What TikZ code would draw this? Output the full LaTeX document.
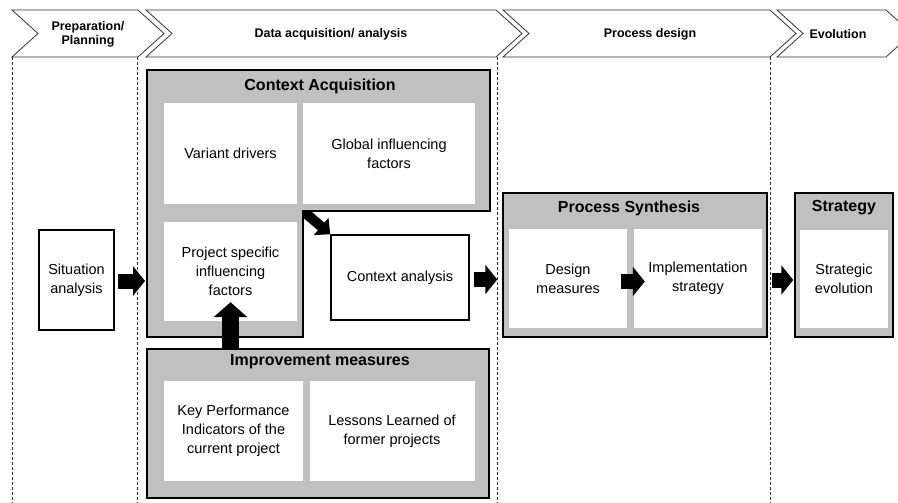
\documentclass[tikz,border=0pt]{standalone}
\usepackage{fontspec}
\setmainfont{Liberation Sans}
\usepackage{tikz}
\usetikzlibrary{arrows.meta,calc}
\definecolor{cBox}{HTML}{C0C0C0}
\definecolor{cSep}{HTML}{303030}
\newcommand{\boxfont}{\fontsize{14.5}{19}\selectfont}
\newcommand{\titlefont}{\fontsize{16}{19}\selectfont\bfseries}
\newcommand{\phasefont}{\fontsize{12.5}{14}\selectfont\bfseries}

\begin{document}
\begin{tikzpicture}[x=1pt,y=-1pt,
  phasebox/.style={draw=black!80,line width=0.8pt,fill=white},
  phase/.style={font=\phasefont,align=center},
  phasesep/.style={draw=cSep,line width=1pt,dash pattern=on 3pt off 2pt},
  outer/.style={draw=black,fill=cBox,line width=1.5pt,inner sep=0pt},
  inner/.style={fill=white,font=\boxfont,align=center,inner sep=2pt},
  plain/.style={draw=black,fill=white,line width=1.5pt,font=\boxfont,align=center},
  boxtitle/.style={font=\titlefont},
  fat/.style={line width=15pt,-{Triangle[length=12pt,width=29pt]}},
  upfat/.style={line width=17pt,-{Triangle[length=15pt,width=33pt]}},
  slimfat/.style={line width=10pt,-{Triangle[length=12pt,width=22pt]}}]

\clip (0,0) rectangle (898,503);

%============================ phases ============================
\foreach \l/\r in {12/138,146/496,503/770,777/886}
  \draw[phasebox] (\l,10) -- (\r,10) -- (\r+26,33.5) -- (\r,57) -- (\l,57) -- (\l+26,33.5) -- cycle;
\node[phase] (prep) at (88,34) {Preparation/\\Planning};
\node[phase] (acq)  at (331,34) {Data acquisition/ analysis};
\node[phase] (des)  at (650,34) {Process design};
\node[phase] (evo)  at (838,34) {Evolution};

\foreach \x in {12,137,497,770}
  \draw[phasesep] (\x,57) -- (\x,503);

%============================ preparation ============================
\node[plain,minimum width=75,minimum height=100] (sit) at (76.5,280) {Situation\\analysis};

%============================ data acquisition ============================
\node[plain,minimum width=138,minimum height=85] (ctxana) at (400,277.5) {Context analysis};
\coordinate (ctxC) at (303,211);
\coordinate (ctxW) at (145,281);
\draw[slimfat] (ctxC) -- (ctxana.north west);

% --- context acquisition (L-shaped) ---
\draw[line width=1.5pt,fill=cBox] (147,70) -- (490,70) -- (490,211) -- (303,211)
  -- (303,337) -- (147,337) -- cycle;
\node[boxtitle] (ctxT) at (320,86) {Context Acquisition};
\node[inner,minimum width=133,minimum height=100] (var)  at (230.5,153.5) {Variant drivers};
\node[inner,minimum width=172,minimum height=100] (glob) at (389,153.5) {Global influencing\\factors};
\node[inner,minimum width=133,minimum height=99] (proj)  at (230.5,271.5) {Project specific\\influencing\\factors};

% --- improvement measures ---
\node[outer,minimum width=342,minimum height=149] (imp) at (318,423.5) {};
\node[boxtitle] (impT) at (320,362) {Improvement measures};
\node[inner,minimum width=139,minimum height=100] (kpi)  at (233.5,431) {Key Performance\\Indicators of the\\current project};
\node[inner,minimum width=165,minimum height=100] (less) at (392,431) {Lessons Learned of\\former projects};

%============================ process design ============================
\node[outer,minimum width=264,minimum height=144] (ps) at (635,265) {};
\node[boxtitle] (psT) at (629,208) {Process Synthesis};
\node[inner,minimum width=118,minimum height=99] (dsm)  at (568,278.5) {Design\\measures};
\node[inner,minimum width=128,minimum height=99] (impl) at (698,278.5) {Implementation\\strategy};

%============================ evolution ============================
\node[outer,minimum width=98,minimum height=144] (strat) at (844,265) {};
\node[boxtitle] (stratT) at (844,208) {Strategy};
\node[inner,minimum width=88,minimum height=98] (strev) at (844,279) {Strategic\\evolution};

% connectors
\draw[fat] ($(sit.east)+(3,1)$) -- (ctxW);
\draw[upfat] (imp.north -| proj.south) -- ($(proj.south)+(0,-19)$);
\draw[fat] ($(ctxana.east)+(4,2)$) -- ($(ctxana.east -| ps.west)+(-5,2)$);
\draw[fat] ($(dsm.east)+(-6,3)$) -- ($(impl.west)+(11,3)$);
\draw[fat] ($(ps.east)+(4,15)$) -- ($(strat.west)+(-1,15)$);

\end{tikzpicture}
\end{document}
